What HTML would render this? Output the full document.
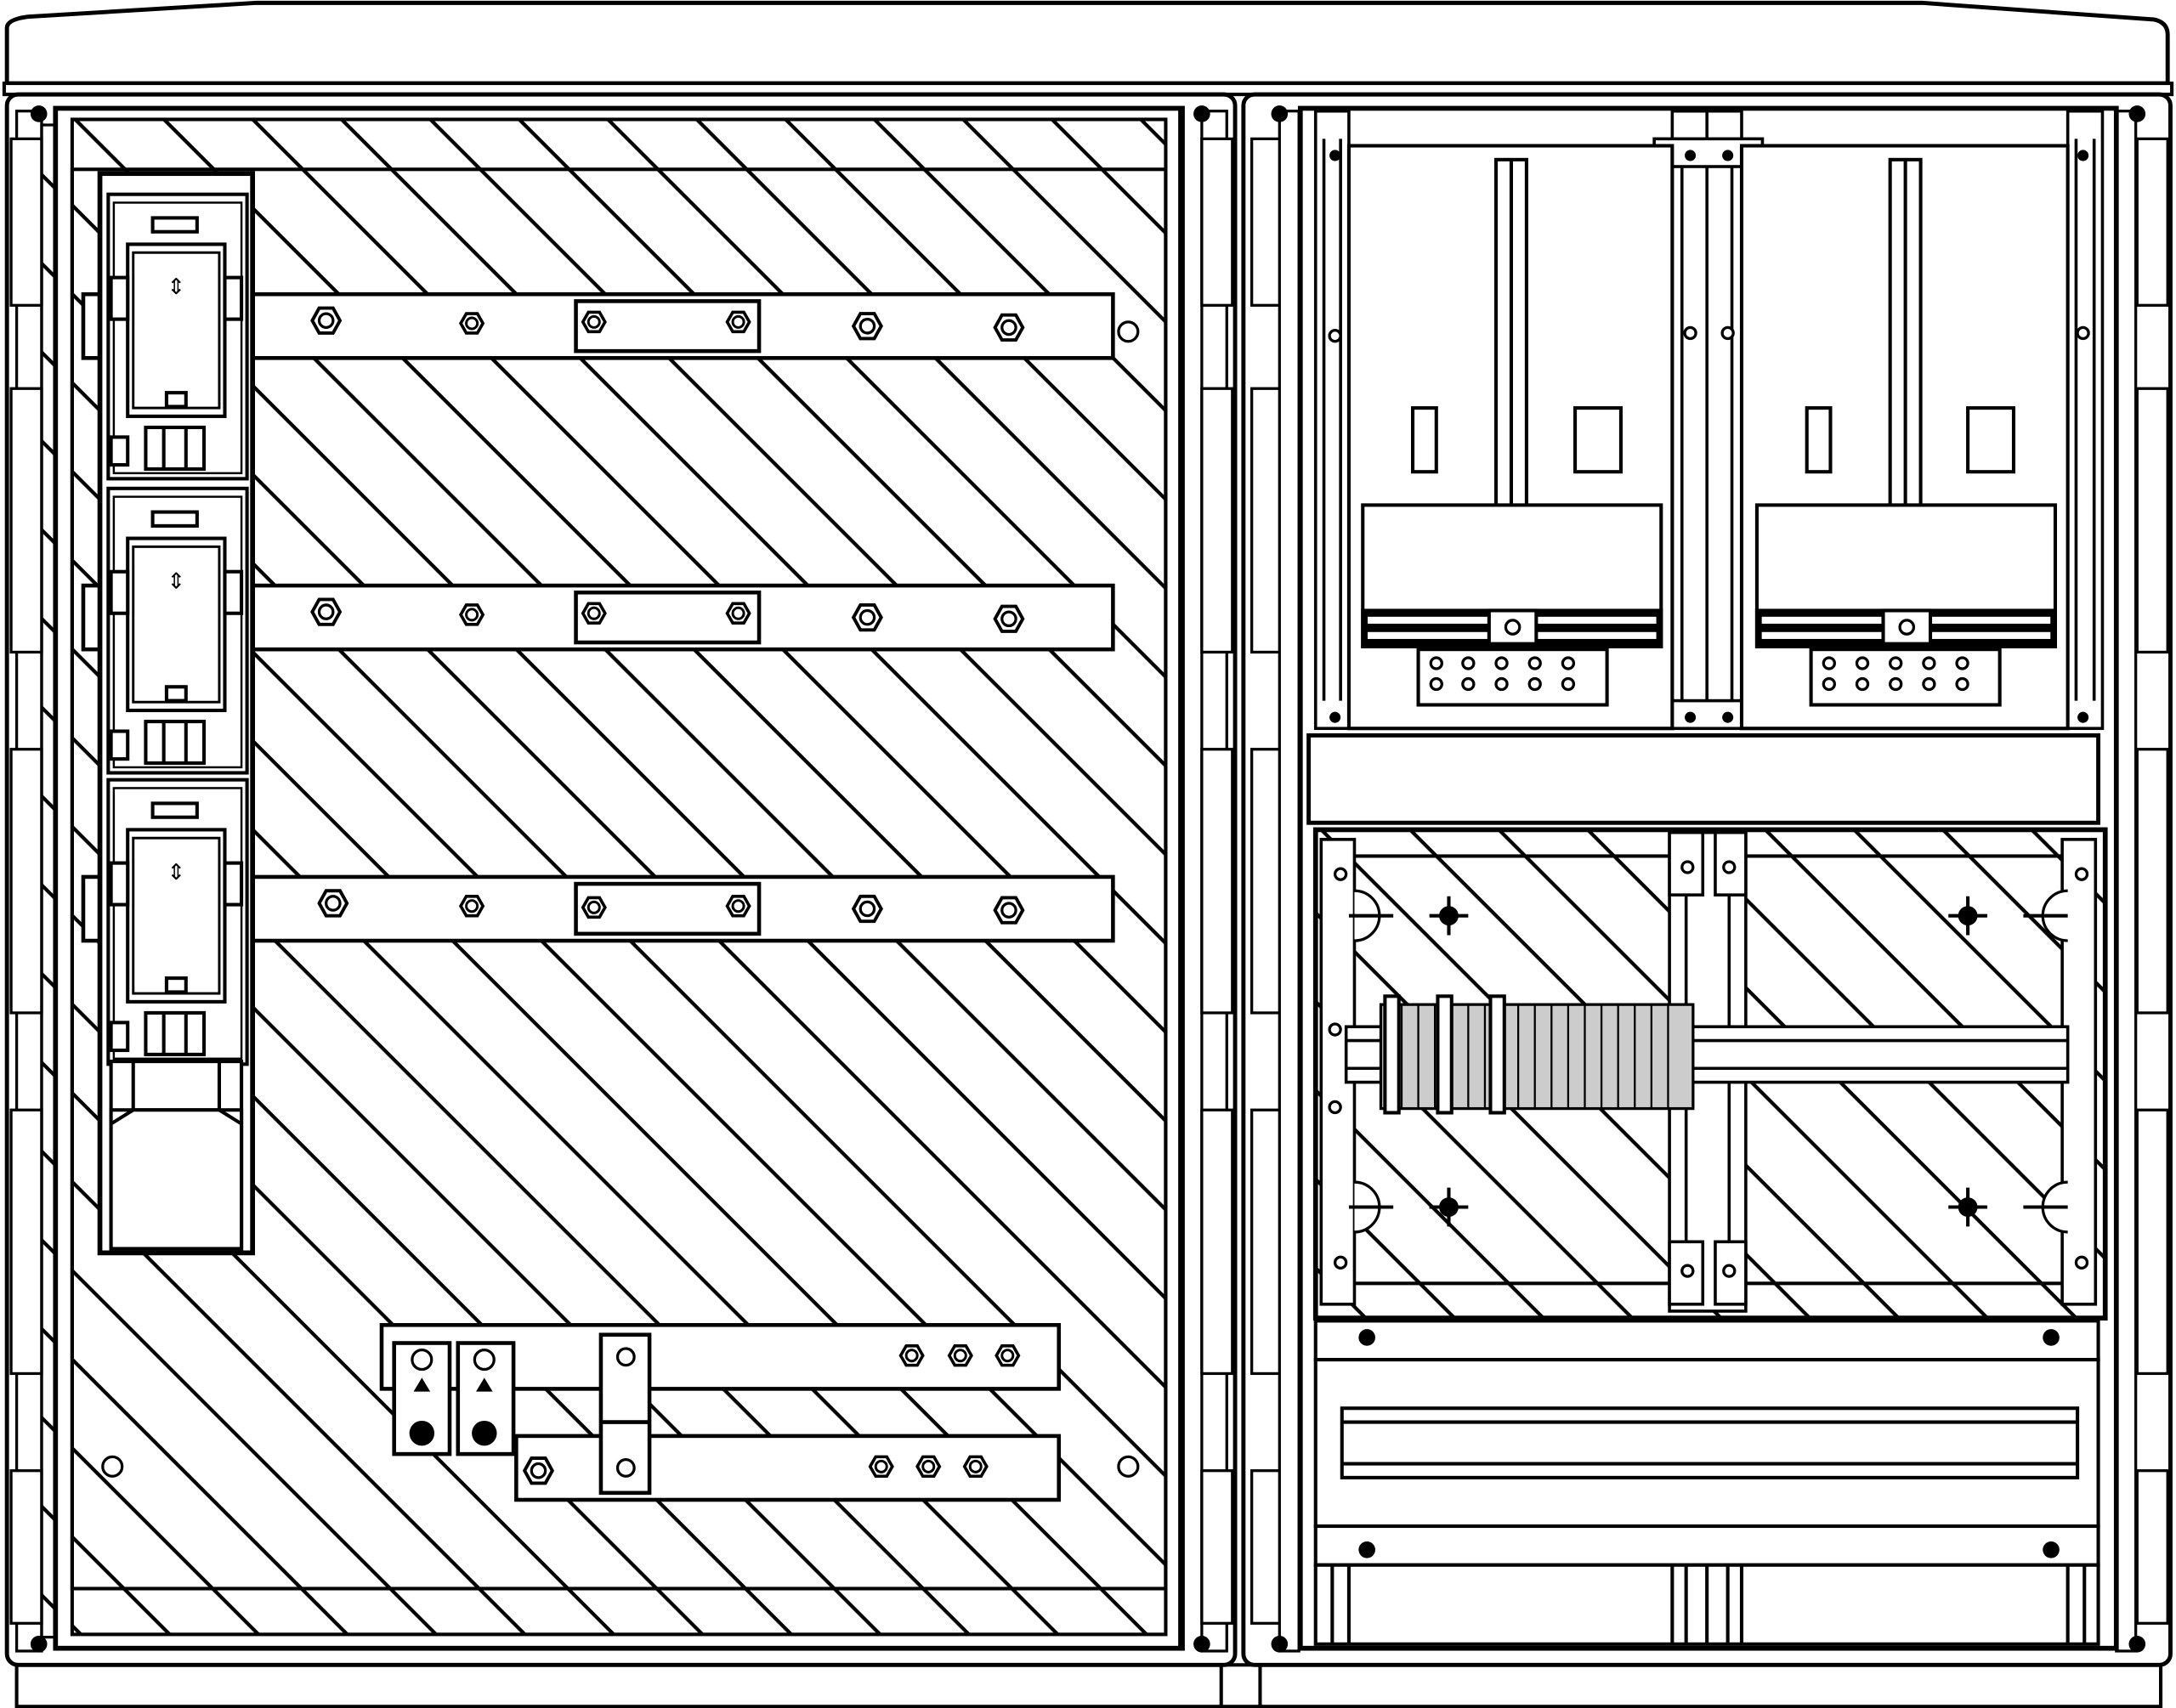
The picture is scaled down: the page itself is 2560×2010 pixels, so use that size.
<!DOCTYPE html>
<html><head><meta charset="utf-8"><style>
html,body{margin:0;padding:0;background:#fff;}
svg{display:block;}
</style></head><body>
<svg width="2560" height="2010" viewBox="0 0 1568 1231" xmlns="http://www.w3.org/2000/svg">
<defs>
<pattern id="h1" patternUnits="userSpaceOnUse" width="45.25" height="45.25" patternTransform="translate(18,0) rotate(-45)">
<line x1="10" y1="0" x2="10" y2="45.25" stroke="#000" stroke-width="2.6"/>
</pattern>
<pattern id="h2" patternUnits="userSpaceOnUse" width="45.25" height="45.25" patternTransform="translate(20,0) rotate(-45)">
<line x1="10" y1="0" x2="10" y2="45.25" stroke="#000" stroke-width="2.6"/>
</pattern>
<g id="hex"><polygon points="-10,0 -5,-9 5,-9 10,0 5,9 -5,9" fill="#fff" stroke="#000" stroke-width="2.4"/><circle r="5" fill="none" stroke="#000" stroke-width="2"/></g>
<g id="hexs"><polygon points="-8,0 -4,-7 4,-7 8,0 4,7 -4,7" fill="#fff" stroke="#000" stroke-width="2.2"/><circle r="4" fill="none" stroke="#000" stroke-width="1.8"/></g>
<g id="fuse" fill="#fff" stroke="#000" stroke-width="2.5">
<rect x="78" y="0" width="100" height="205"/>
<rect x="82" y="6" width="92" height="195" stroke-width="1.5"/>
<rect x="110" y="17" width="32" height="10"/>
<rect x="92" y="36" width="70" height="124"/>
<rect x="96" y="42" width="62" height="112" stroke-width="1.8"/>
<text x="127" y="72" font-family="Liberation Sans, sans-serif" font-size="16" text-anchor="middle" fill="#000" stroke="none">⇕</text>
<rect x="120" y="143" width="14" height="10"/>
<rect x="105" y="168" width="42" height="30"/>
<line x1="118" y1="168" x2="118" y2="198"/><line x1="134" y1="168" x2="134" y2="198"/>
<rect x="80" y="60" width="12" height="30"/><rect x="162" y="60" width="12" height="30"/>
<rect x="80" y="175" width="12" height="20"/>
</g>
</defs>

<path d="M5,60 L5,20 Q5,14 20,12 L185,2 L1385,2 L1552,14 Q1562,16 1562,25 L1562,60 Z" fill="#fff" stroke="#000" stroke-width="3"/>
<rect x="3" y="60" width="1562" height="8" fill="#fff" stroke="#000" stroke-width="2.5"/>

<rect x="12" y="1200" width="1545" height="30" fill="#fff" stroke="#000" stroke-width="2.5"/>
<line x1="880" y1="1200" x2="880" y2="1231" stroke="#000" stroke-width="2.5"/>
<line x1="908" y1="1200" x2="908" y2="1231" stroke="#000" stroke-width="2.5"/>

<rect x="5" y="68" width="885" height="1132" rx="8" fill="#fff" stroke="#000" stroke-width="3"/>
<rect x="12" y="80" width="18" height="1110" fill="#fff" stroke="#000" stroke-width="2"/>
<rect x="866" y="80" width="18" height="1110" fill="#fff" stroke="#000" stroke-width="2"/>
<g fill="#fff" stroke="#000" stroke-width="2">
<rect x="8" y="100" width="22" height="120"/><rect x="8" y="280" width="22" height="190"/><rect x="8" y="540" width="22" height="190"/><rect x="8" y="800" width="22" height="190"/><rect x="8" y="1060" width="22" height="110"/>
<rect x="866" y="100" width="22" height="120"/><rect x="866" y="280" width="22" height="190"/><rect x="866" y="540" width="22" height="190"/><rect x="866" y="800" width="22" height="190"/><rect x="866" y="1060" width="22" height="110"/>
</g>
<rect x="30" y="90" width="12" height="1090" fill="url(#h1)" stroke="#000" stroke-width="2"/>
<rect x="40" y="78" width="812" height="1110" fill="#fff" stroke="#000" stroke-width="3.5"/>
<rect x="52" y="86" width="788" height="1092" fill="url(#h1)" stroke="#000" stroke-width="2.5"/>
<rect x="52" y="122" width="788" height="1023" fill="none" stroke="#000" stroke-width="2.5"/>
<line x1="850" y1="78" x2="850" y2="1188" stroke="#000" stroke-width="2"/>
<circle cx="28" cy="82" r="6" fill="#000"/><circle cx="866" cy="82" r="6" fill="#000"/>
<circle cx="28" cy="1185" r="6" fill="#000"/><circle cx="866" cy="1185" r="6" fill="#000"/>
<circle cx="81" cy="1057" r="7" fill="#fff" stroke="#000" stroke-width="2"/>
<circle cx="813" cy="1057" r="7" fill="#fff" stroke="#000" stroke-width="2"/>
<circle cx="813" cy="239" r="7" fill="#fff" stroke="#000" stroke-width="2"/>

<g fill="#fff" stroke="#000" stroke-width="2.8">
<rect x="60" y="212" width="742" height="46"/><rect x="415" y="217" width="132" height="36"/>
<rect x="60" y="422" width="742" height="46"/><rect x="415" y="427" width="132" height="36"/>
<rect x="60" y="632" width="742" height="46"/><rect x="415" y="637" width="132" height="36"/>
</g>
<g>
<use href="#hex" x="235" y="231"/><use href="#hexs" x="340" y="233"/><use href="#hexs" x="428" y="232"/><use href="#hexs" x="532" y="232"/><use href="#hex" x="625" y="235"/><use href="#hex" x="727" y="236"/>
<use href="#hex" x="235" y="441"/><use href="#hexs" x="340" y="443"/><use href="#hexs" x="428" y="442"/><use href="#hexs" x="532" y="442"/><use href="#hex" x="625" y="445"/><use href="#hex" x="727" y="446"/>
<use href="#hex" x="240" y="651"/><use href="#hexs" x="340" y="653"/><use href="#hexs" x="428" y="654"/><use href="#hexs" x="532" y="653"/><use href="#hex" x="625" y="655"/><use href="#hex" x="727" y="656"/>
</g>

<rect x="72" y="125" width="110" height="778" fill="#fff" stroke="#000" stroke-width="3.5"/>
<use href="#fuse" y="140"/>
<use href="#fuse" y="352"/>
<use href="#fuse" y="562"/>
<g fill="#fff" stroke="#000" stroke-width="2.5">
<rect x="80" y="765" width="94" height="135"/>
<rect x="96" y="765" width="62" height="35"/>
<rect x="80" y="800" width="94" height="100"/>
<line x1="80" y1="810" x2="96" y2="800"/><line x1="174" y1="810" x2="158" y2="800"/>
</g>

<g fill="#fff" stroke="#000" stroke-width="2.8">
<rect x="275" y="955" width="488" height="46"/>
<rect x="372" y="1035" width="391" height="46"/>
<rect x="433" y="962" width="35" height="114"/>
<line x1="433" y1="1025" x2="468" y2="1025"/>
<rect x="284" y="968" width="40" height="80"/><rect x="330" y="968" width="40" height="80"/>
</g>
<circle cx="451" cy="978" r="6" fill="#fff" stroke="#000" stroke-width="2"/>
<circle cx="451" cy="1058" r="6" fill="#fff" stroke="#000" stroke-width="2"/>
<circle cx="304" cy="980" r="7" fill="#fff" stroke="#000" stroke-width="2"/><circle cx="349" cy="980" r="7" fill="#fff" stroke="#000" stroke-width="2"/>
<polygon points="298,1003 304,993 310,1003" fill="#000"/><polygon points="343,1003 349,993 355,1003" fill="#000"/>
<circle cx="304" cy="1033" r="9" fill="#000"/><circle cx="349" cy="1033" r="9" fill="#000"/>
<use href="#hexs" x="657" y="977"/><use href="#hexs" x="692" y="977"/><use href="#hexs" x="726" y="977"/>
<use href="#hex" x="388" y="1060"/><use href="#hexs" x="635" y="1057"/><use href="#hexs" x="669" y="1057"/><use href="#hexs" x="703" y="1057"/>

<rect x="896" y="68" width="668" height="1132" rx="8" fill="#fff" stroke="#000" stroke-width="3"/>
<g fill="#fff" stroke="#000" stroke-width="2">
<rect x="902" y="100" width="22" height="120"/><rect x="902" y="280" width="22" height="190"/><rect x="902" y="540" width="22" height="190"/><rect x="902" y="800" width="22" height="190"/><rect x="902" y="1060" width="22" height="110"/>
<rect x="1540" y="100" width="22" height="120"/><rect x="1540" y="280" width="22" height="190"/><rect x="1540" y="540" width="22" height="190"/><rect x="1540" y="800" width="22" height="190"/><rect x="1540" y="1060" width="22" height="110"/>
</g>
<rect x="922" y="80" width="14" height="1110" fill="#fff" stroke="#000" stroke-width="2"/>
<rect x="1525" y="80" width="14" height="1110" fill="#fff" stroke="#000" stroke-width="2"/>
<rect x="937" y="78" width="588" height="1110" fill="#fff" stroke="#000" stroke-width="3.5"/>
<circle cx="922" cy="82" r="6" fill="#000"/><circle cx="1540" cy="82" r="6" fill="#000"/>
<circle cx="922" cy="1185" r="6" fill="#000"/><circle cx="1540" cy="1185" r="6" fill="#000"/>

<g fill="#fff" stroke="#000" stroke-width="2.2">
<rect x="948" y="80" width="24" height="445"/><line x1="954" y1="100" x2="954" y2="505"/><line x1="966" y1="100" x2="966" y2="505"/>
<rect x="1205" y="80" width="50" height="445"/><line x1="1212" y1="100" x2="1212" y2="505"/><line x1="1230" y1="80" x2="1230" y2="525"/><line x1="1248" y1="100" x2="1248" y2="505"/>
<rect x="1490" y="80" width="25" height="445"/><line x1="1496" y1="100" x2="1496" y2="505"/><line x1="1509" y1="100" x2="1509" y2="505"/>
<rect x="1192" y="100" width="78" height="20"/><rect x="1192" y="505" width="78" height="20"/>
</g>
<g fill="#fff" stroke="#000" stroke-width="2.5">
<rect x="972" y="105" width="233" height="420"/>
<rect x="1255" y="105" width="235" height="420"/>
<rect x="1078" y="115" width="22" height="330"/><line x1="1089" y1="115" x2="1089" y2="445"/>
<rect x="1018" y="294" width="17" height="46"/><rect x="1135" y="294" width="33" height="46"/>
<rect x="982" y="364" width="215" height="102"/><rect x="982" y="440" width="215" height="26" fill="#000"/><rect x="985" y="444" width="209" height="6" stroke-width="1"/><rect x="985" y="455" width="209" height="6" stroke-width="1"/>
<rect x="1073" y="440" width="34" height="24"/>
<rect x="1022" y="468" width="136" height="40"/>
<rect x="1362" y="115" width="22" height="330"/><line x1="1373" y1="115" x2="1373" y2="445"/>
<rect x="1302" y="294" width="17" height="46"/><rect x="1418" y="294" width="33" height="46"/>
<rect x="1266" y="364" width="215" height="102"/><rect x="1266" y="440" width="215" height="26" fill="#000"/><rect x="1269" y="444" width="209" height="6" stroke-width="1"/><rect x="1269" y="455" width="209" height="6" stroke-width="1"/>
<rect x="1357" y="440" width="34" height="24"/>
<rect x="1305" y="468" width="136" height="40"/>
</g>
<g fill="#fff" stroke="#000" stroke-width="2">
<circle cx="1090" cy="452" r="5"/><circle cx="1374" cy="452" r="5"/>
<circle cx="1035" cy="478" r="4"/><circle cx="1058" cy="478" r="4"/><circle cx="1082" cy="478" r="4"/><circle cx="1106" cy="478" r="4"/><circle cx="1130" cy="478" r="4"/>
<circle cx="1035" cy="493" r="4"/><circle cx="1058" cy="493" r="4"/><circle cx="1082" cy="493" r="4"/><circle cx="1106" cy="493" r="4"/><circle cx="1130" cy="493" r="4"/>
<circle cx="1318" cy="478" r="4"/><circle cx="1342" cy="478" r="4"/><circle cx="1366" cy="478" r="4"/><circle cx="1390" cy="478" r="4"/><circle cx="1414" cy="478" r="4"/>
<circle cx="1318" cy="493" r="4"/><circle cx="1342" cy="493" r="4"/><circle cx="1366" cy="493" r="4"/><circle cx="1390" cy="493" r="4"/><circle cx="1414" cy="493" r="4"/>
<circle cx="962" cy="242" r="4"/><circle cx="1218" cy="240" r="4"/><circle cx="1245" cy="240" r="4"/><circle cx="1501" cy="240" r="4"/>
</g>
<g fill="#000"><circle cx="962" cy="112" r="4"/><circle cx="1218" cy="112" r="4"/><circle cx="1245" cy="112" r="4"/><circle cx="1501" cy="112" r="4"/>
<circle cx="962" cy="517" r="4"/><circle cx="1218" cy="517" r="4"/><circle cx="1245" cy="517" r="4"/><circle cx="1501" cy="517" r="4"/></g>

<rect x="943" y="530" width="569" height="63" fill="#fff" stroke="#000" stroke-width="3"/>

<rect x="948" y="598" width="569" height="352" fill="url(#h2)" stroke="#000" stroke-width="3.5"/>
<rect x="972" y="617" width="518" height="308" fill="none" stroke="#000" stroke-width="2.5"/>
<g fill="#fff" stroke="#000" stroke-width="2.2">
<rect x="952" y="605" width="24" height="335"/>
<rect x="1486" y="605" width="24" height="335"/>
<rect x="1203" y="600" width="55" height="345"/>
<rect x="1203" y="600" width="24" height="45"/><rect x="1236" y="600" width="22" height="45"/>
<rect x="1203" y="895" width="24" height="45"/><rect x="1236" y="895" width="22" height="45"/>
<line x1="1215" y1="645" x2="1215" y2="895"/><line x1="1246" y1="645" x2="1246" y2="895"/>
<rect x="970" y="740" width="520" height="40"/><line x1="970" y1="750" x2="1490" y2="750"/><line x1="970" y1="770" x2="1490" y2="770"/>
</g>
<rect x="995" y="724" width="225" height="75" fill="#ccc" stroke="#000" stroke-width="2"/>
<g stroke="#000" stroke-width="1.4">
<line x1="1010" y1="724" x2="1010" y2="799"/><line x1="1022" y1="724" x2="1022" y2="799"/><line x1="1034" y1="724" x2="1034" y2="799"/><line x1="1046" y1="724" x2="1046" y2="799"/><line x1="1058" y1="724" x2="1058" y2="799"/><line x1="1070" y1="724" x2="1070" y2="799"/><line x1="1082" y1="724" x2="1082" y2="799"/><line x1="1094" y1="724" x2="1094" y2="799"/><line x1="1106" y1="724" x2="1106" y2="799"/><line x1="1118" y1="724" x2="1118" y2="799"/><line x1="1130" y1="724" x2="1130" y2="799"/><line x1="1142" y1="724" x2="1142" y2="799"/><line x1="1154" y1="724" x2="1154" y2="799"/><line x1="1166" y1="724" x2="1166" y2="799"/><line x1="1178" y1="724" x2="1178" y2="799"/><line x1="1190" y1="724" x2="1190" y2="799"/><line x1="1202" y1="724" x2="1202" y2="799"/>
</g>
<g fill="#fff" stroke="#000" stroke-width="2.5">
<rect x="998" y="718" width="10" height="84"/><rect x="1036" y="718" width="10" height="84"/><rect x="1074" y="718" width="10" height="84"/>
</g>
<g fill="#fff" stroke="#000" stroke-width="2">
<circle cx="966" cy="630" r="4"/><circle cx="966" cy="910" r="4"/><circle cx="1500" cy="630" r="4"/><circle cx="1500" cy="910" r="4"/>
<circle cx="1216" cy="625" r="4"/><circle cx="1246" cy="625" r="4"/><circle cx="1216" cy="916" r="4"/><circle cx="1246" cy="916" r="4"/>
<circle cx="962" cy="742" r="4"/><circle cx="962" cy="798" r="4"/>
<path d="M976,642 A18,18 0 0 1 976,678"/><path d="M1490,642 A18,18 0 0 0 1490,678"/>
<path d="M976,852 A18,18 0 0 1 976,888"/><path d="M1490,852 A18,18 0 0 0 1490,888"/>
</g>
<g stroke="#000" stroke-width="2.5">
<line x1="1030" y1="660" x2="1058" y2="660"/><line x1="1044" y1="646" x2="1044" y2="674"/>
<line x1="1404" y1="660" x2="1432" y2="660"/><line x1="1418" y1="646" x2="1418" y2="674"/>
<line x1="1030" y1="870" x2="1058" y2="870"/><line x1="1044" y1="856" x2="1044" y2="884"/>
<line x1="1404" y1="870" x2="1432" y2="870"/><line x1="1418" y1="856" x2="1418" y2="884"/>
<line x1="972" y1="660" x2="1004" y2="660"/><line x1="1458" y1="660" x2="1490" y2="660"/>
<line x1="972" y1="870" x2="1004" y2="870"/><line x1="1458" y1="870" x2="1490" y2="870"/>
</g>
<g fill="#000"><circle cx="1044" cy="660" r="7"/><circle cx="1418" cy="660" r="7"/><circle cx="1044" cy="870" r="7"/><circle cx="1418" cy="870" r="7"/></g>

<g fill="#fff" stroke="#000" stroke-width="2.5">
<rect x="948" y="952" width="564" height="28"/>
<rect x="948" y="980" width="564" height="120"/>
<rect x="967" y="1015" width="530" height="50"/><line x1="967" y1="1025" x2="1497" y2="1025"/><line x1="967" y1="1055" x2="1497" y2="1055"/>
<rect x="948" y="1100" width="564" height="28"/>
<rect x="948" y="1128" width="564" height="57"/>
<line x1="1205" y1="1128" x2="1205" y2="1185"/><line x1="1215" y1="1128" x2="1215" y2="1185"/><line x1="1230" y1="1128" x2="1230" y2="1185"/><line x1="1245" y1="1128" x2="1245" y2="1185"/><line x1="1255" y1="1128" x2="1255" y2="1185"/>
<line x1="960" y1="1128" x2="960" y2="1185"/><line x1="972" y1="1128" x2="972" y2="1185"/><line x1="1490" y1="1128" x2="1490" y2="1185"/><line x1="1502" y1="1128" x2="1502" y2="1185"/>
</g>
<g fill="#000"><circle cx="985" cy="964" r="6"/><circle cx="1478" cy="964" r="6"/><circle cx="985" cy="1117" r="6"/><circle cx="1478" cy="1117" r="6"/></g>
</svg>
</body></html>
